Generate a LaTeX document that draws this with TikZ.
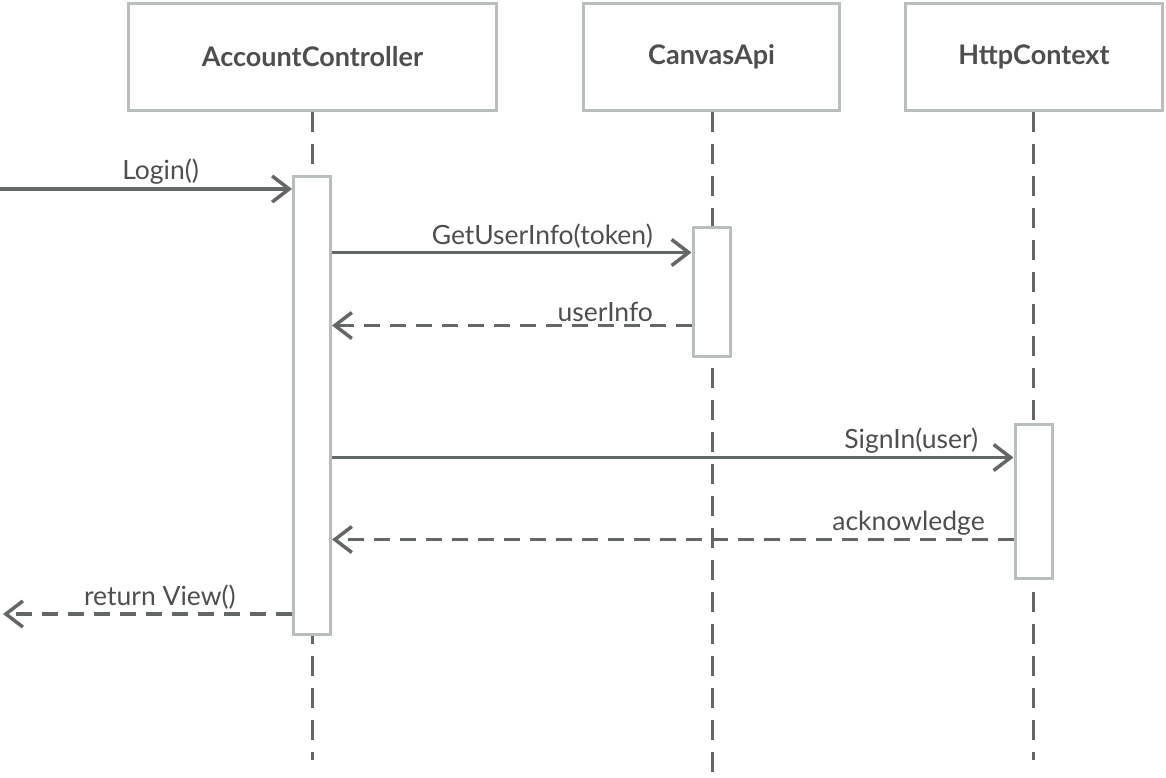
\documentclass[tikz,border=0pt]{standalone}
\usepackage{fontspec}
\setmainfont{Lato}
\usetikzlibrary{arrows.meta,positioning}
\definecolor{boxgray}{HTML}{B8BDBD}
\definecolor{linegray}{HTML}{646767}
\definecolor{textgray}{HTML}{4D4F4F}
\begin{document}
\begin{tikzpicture}[x=1pt,y=-1pt,
  head/.style={draw=boxgray, line width=3pt, fill=white, minimum height=107pt,
    inner sep=0pt, font=\fontsize{27}{31}\selectfont\bfseries, text=textgray},
  activation/.style={draw=boxgray, line width=3pt, fill=white, minimum width=37pt, inner sep=0pt},
  lifeline/.style={linegray, line width=3pt, dash pattern=on 20pt off 12pt},
  msg/.style={linegray, line width=3.5pt, -{Straight Barb[length=17pt,width=26pt]}},
  reply/.style={msg, dash pattern=on 16pt off 10pt},
  lbl/.style={font=\fontsize{26.5}{30}\selectfont, text=textgray, inner sep=1pt, above=1.5pt}
]
\useasboundingbox (0,0) rectangle (1166,777);
% participants
\node[head, minimum width=368pt] (acHead) at (312.5,57) {AccountController};
\node[head, minimum width=256pt] (cvHead) at (711.5,57) {CanvasApi};
\node[head, minimum width=257pt] (httpHead) at (1034,57) {HttpContext};
% lifelines
\coordinate (acEnd) at (312,760);
\coordinate (cvEnd) at (712,772);
\coordinate (httpEnd) at (1033,760);
\draw[lifeline] (acHead.south -| acEnd) -- (acEnd);
\draw[lifeline] (cvHead.south -| cvEnd) -- (cvEnd);
\draw[lifeline] (httpHead.south -| httpEnd) -- (httpEnd);
% activation bars
\node[activation, minimum height=458pt] (acAct) at (312,405.5) {};
\node[activation, minimum height=129pt] (cvAct) at (711.5,292) {};
\node[activation, minimum height=154pt] (httpAct) at (1033.5,501.5) {};
% messages
\coordinate (loginStart) at (0,189);
\draw[msg] (loginStart) -- (acAct.west |- loginStart) node[lbl, pos=0.55] {Login()};
\coordinate (m2) at ([yshift=-26.5pt]cvAct.north west);
\draw[msg] (acAct.east |- m2) -- (m2) node[lbl, pos=0.585] {GetUserInfo(token)};
\coordinate (m3) at ([yshift=32.5pt]cvAct.south west);
\draw[reply] (m3) -- (acAct.east |- m3) node[lbl, pos=0.24] {userInfo};
\coordinate (m4) at ([yshift=-34.5pt]httpAct.north west);
\draw[msg] (acAct.east |- m4) -- (m4) node[lbl, pos=0.85] {SignIn(user)};
\coordinate (m5) at ([yshift=40.5pt]httpAct.south west);
\draw[reply] (m5) -- (acAct.east |- m5) node[lbl, pos=0.154] {acknowledge};
\coordinate (viewEnd) at (3,614);
\draw[reply] (acAct.west |- viewEnd) -- (viewEnd) node[lbl, pos=0.457] {return View()};
\end{tikzpicture}
\end{document}
